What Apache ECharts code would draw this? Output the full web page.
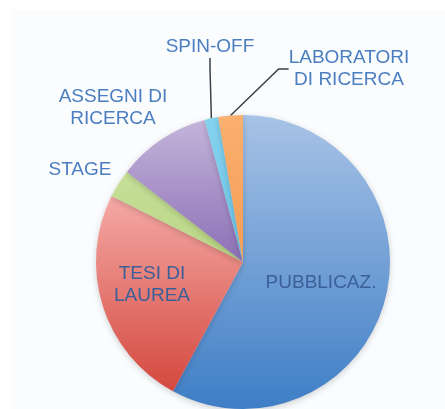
<!DOCTYPE html>
<html>
<head>
<meta charset="utf-8">
<script src="https://cdn.jsdelivr.net/npm/echarts@6/dist/echarts.min.js"></script>
<style>
  html, body { margin: 0; padding: 0; background: #ffffff; }
  #chart { width: 445px; height: 409px; }
</style>
</head>
<body>
<div id="chart"></div>
<script>
// dati (percentuali stimate)
let categories = ['PUBBLICAZ.', 'TESI DI\nLAUREA', 'STAGE', 'ASSEGNI DI\nRICERCA', 'SPIN-OFF', 'LABORATORI\nDI RICERCA'];
let values = [57.9, 24.5, 3.1, 10.3, 1.5, 2.7];

// colori delle fette: [alto, basso]
let sliceColors = [
    ['#a8c3e6', '#3e7ec6'],
    ['#f5aaa6', '#d4483e'],
    ['#c6e098', '#b9d684'],
    ['#c4b4da', '#8b6fb6'],
    ['#84d2ee', '#6cc4e6'],
    ['#fab070', '#f59c52']
];
// posizione delle etichette (centro del testo)
let labelSpots = [[321, 283], [152, 285], [80, 170], [113, 108], [210, 47], [349, 69]];
let showLine = [false, false, false, false, true, true];

let pieChart = echarts.init(document.getElementById('chart'));
let pieData = categories.map(function (name, i) {
    return {
        name: name,
        value: values[i],
        itemStyle: {
            color: new echarts.graphic.LinearGradient(0, 0, 0, 1, [
                {offset: 0, color: sliceColors[i][0]},
                {offset: 1, color: sliceColors[i][1]}
            ])
        },
        label: {
            color: i < 2 ? '#3b5f99' : '#4a7ec0'
        },
        labelLine: {show: showLine[i]}
    };
});

let pieOption = {
    animation: false,
    backgroundColor: '#ffffff',
    graphic: [{
        type: 'rect',
        z: -10,
        shape: {x: 12, y: 10, width: 433, height: 399},
        style: {fill: '#fbfcfe'}
    }],
    series: [{
        type: 'pie',
        center: [243, 262],
        radius: 147,
        startAngle: 90,
        clockwise: true,
        avoidLabelOverlap: false,
        data: pieData,
        itemStyle: {
            shadowBlur: 6,
            shadowColor: 'rgba(0,0,0,0.18)',
            shadowOffsetY: 2
        },
        label: {
            show: true,
            fontFamily: 'Liberation Sans, Arial, sans-serif',
            fontSize: 19,
            lineHeight: 22,
            align: 'center',
            formatter: '{b}'
        },
        labelLine: {
            length: 8,
            length2: 10,
            lineStyle: {color: '#37424c', width: 1.5}
        },
        emphasis: {disabled: true},
        labelLayout: function (params) {
            let p = labelSpots[params.dataIndex];
            return {x: p[0], y: p[1], align: 'center', verticalAlign: 'middle'};
        }
    }]
};
pieChart.setOption(pieOption);
</script>
</body>
</html>
